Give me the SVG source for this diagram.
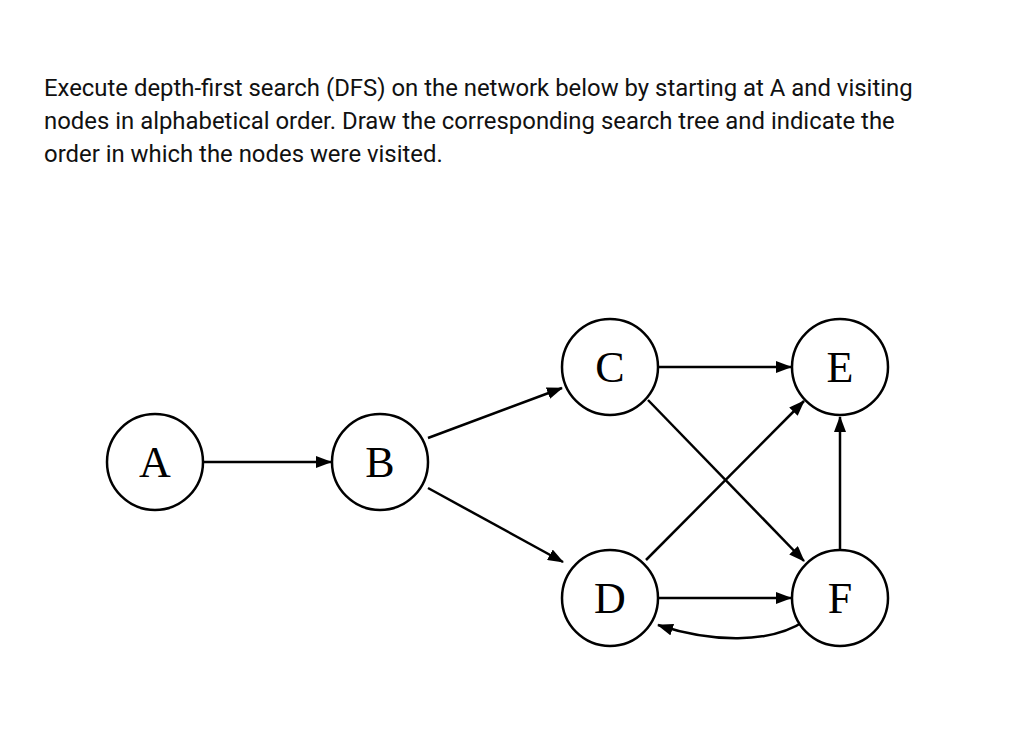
<svg xmlns="http://www.w3.org/2000/svg" width="1016" height="744" viewBox="0 0 1016 744">
<style>
.q{font-family:Roboto,"Liberation Sans",sans-serif;font-size:23.9px;fill:#111}
.n circle{fill:#fff;stroke:#000;stroke-width:2.5}
.n text{font-family:"Liberation Serif",serif;font-size:44px;text-anchor:middle;fill:#000}
.e{stroke:#000;stroke-width:2.5;fill:none;marker-end:url(#ah)}
</style>
<defs><marker id="ah" markerWidth="16" markerHeight="12" refX="15" refY="6" orient="auto" markerUnits="userSpaceOnUse"><path d="M0,0 L16,6 L0,12 Z" fill="#000"/></marker></defs>
<rect width="1016" height="744" fill="#fff"/>
<text class="q" x="44" y="96">Execute depth-first search (DFS) on the network below by starting at A and visiting</text>
<text class="q" x="44" y="129">nodes in alphabetical order. Draw the corresponding search tree and indicate the</text>
<text class="q" x="44" y="162">order in which the nodes were visited.</text>
<g id="connectors">
<line class="e" x1="203" y1="462" x2="331" y2="462"/>
<line class="e" x1="428" y1="438" x2="562" y2="388"/>
<line class="e" x1="658" y1="367" x2="791" y2="367"/>
<line class="e" x1="428" y1="488" x2="563" y2="562"/>
<line class="e" x1="648" y1="400" x2="804" y2="561"/>
<line class="e" x1="646" y1="560" x2="804" y2="401"/>
<line class="e" x1="658" y1="598" x2="791" y2="598"/>
<line class="e" x1="840" y1="549" x2="840" y2="417"/>
<path class="e" d="M806,620 C770,645 710,642 658,625"/>
</g>
<g id="A" class="n"><circle cx="155" cy="462" r="48"/><text x="155" y="477">A</text></g>
<g id="B" class="n"><circle cx="380" cy="462" r="48"/><text x="380" y="477">B</text></g>
<g id="C" class="n"><circle cx="610" cy="367" r="48"/><text x="610" y="382">C</text></g>
<g id="D" class="n"><circle cx="610" cy="598" r="48"/><text x="610" y="613">D</text></g>
<g id="E" class="n"><circle cx="840" cy="367" r="48"/><text x="840" y="382">E</text></g>
<g id="F" class="n"><circle cx="840" cy="598" r="48"/><text x="840" y="613">F</text></g>
</svg>
